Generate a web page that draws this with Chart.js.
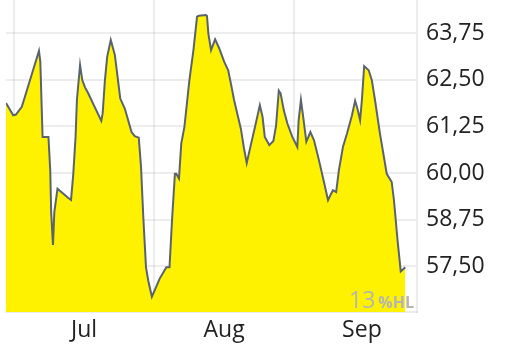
<!DOCTYPE html>
<html>
<head>
<meta charset="utf-8">
<script src="https://cdn.jsdelivr.net/npm/chart.js@4.4.1/dist/chart.umd.min.js"></script>
<style>
  html, body { margin: 0; padding: 0; background: #fff; }
  #wrap { width: 512px; height: 346px; }
</style>
</head>
<body>
<div id="wrap"><canvas id="chart" width="512" height="346"></canvas></div>
<script>
// days since 1 Jul, and the price at each
const days = [-1.8, -0.2, 0.4, 1.7, 5.0, 5.5, 5.8, 6.3, 7.6, 8.0, 8.2, 8.6, 8.9, 9.6, 12.0, 12.6,
  13.1, 13.6, 13.9, 14.6, 15.1, 15.7, 16.4, 19.3, 19.6, 20.1, 20.6, 21.4, 22.3, 23.0, 23.5, 24.5,
  26.0, 26.7, 27.6, 28.1, 28.6, 29.2, 29.7, 30.5, 31.4, 32.2, 33.7, 34.4, 35.0, 35.6, 35.9, 36.5,
  37.0, 37.7, 38.8, 39.7, 40.5, 40.9, 42.4, 42.7, 43.0, 43.6, 44.5, 45.4, 46.5, 47.4, 48.0, 48.7,
  49.4, 50.2, 50.9, 51.5, 52.4, 53.5, 54.4, 55.0, 55.5, 56.5, 57.4, 58.0, 58.6, 59.0, 59.7, 60.5,
  61.6, 62.7, 63.0, 63.5, 63.9, 64.7, 65.6, 66.4, 67.5, 68.6, 69.5, 70.0, 70.6, 71.3, 71.9, 72.8,
  73.7, 74.8, 75.5, 76.0, 76.6, 77.0, 77.5, 78.5, 79.2, 79.9, 81.0, 82.5, 83.6, 84.1, 84.9, 85.6, 86.6];
const prices = [61.88, 61.55, 61.57, 61.78, 63.08, 63.28, 62.99, 60.97, 60.97, 60.07, 58.95, 58.07, 58.95, 59.58, 59.33, 59.28,
  59.98, 60.97, 61.96, 62.90, 62.49, 62.30, 62.14, 61.40, 61.60, 62.49, 63.12, 63.57, 63.17, 62.49, 62.00, 61.73,
  61.10, 60.99, 60.95, 60.16, 58.82, 57.47, 57.11, 56.68, 56.93, 57.16, 57.47, 57.47, 58.82, 59.98, 59.98, 59.85,
  60.79, 61.24, 62.49, 63.30, 64.20, 64.22, 64.24, 64.22, 63.75, 63.30, 63.59, 63.35, 62.99, 62.76, 62.40, 61.96,
  61.60, 61.19, 60.66, 60.27, 60.75, 61.33, 61.82, 61.51, 60.97, 60.75, 60.86, 61.28, 62.21, 62.14, 61.69, 61.33,
  60.97, 60.70, 61.42, 61.96, 61.60, 60.84, 61.10, 60.88, 60.34, 59.76, 59.27, 59.40, 59.54, 59.49, 60.07, 60.70,
  61.06, 61.55, 61.94, 61.73, 61.42, 61.96, 62.87, 62.76, 62.49, 61.96, 61.06, 59.98, 59.76, 59.27, 58.19, 57.36, 57.47];

const yTicks = [57.5, 58.75, 60, 61.25, 62.5, 63.75];
const monthStarts = [0, 31, 62];
const monthMids = [15.5, 46.5, 77];
const monthNames = ['Jul', 'Aug', 'Sep'];

const gridColor = 'rgba(0,0,0,0.07)';
const font = { family: '"Open Sans", "Noto Sans", sans-serif', size: 23 };

const watermark = {
  id: 'watermark',
  afterDraw(chart) {
    const c = chart.ctx;
    c.save();
    c.fillStyle = '#b4b4b4';
    c.textBaseline = 'alphabetic';
    c.textAlign = 'right';
    c.font = 'bold 16px "Open Sans", sans-serif';
    c.fillText('%HL', 414, 308);
    const w = c.measureText('%HL').width;
    c.font = '23px "Open Sans", sans-serif';
    c.fillText('13', 414 - w - 3, 308);
    c.restore();
  }
};

// drop the half-label padding so the plot runs to the canvas top
function noPad(s) {
  s.paddingTop = 0; s.paddingBottom = 0; s.paddingLeft = 0; s.paddingRight = 0;
}

new Chart(document.getElementById('chart'), {
  type: 'line',
  data: {
    datasets: [{
      data: days.map((d, i) => ({ x: d, y: prices[i] })),
      borderColor: '#5a636c',
      borderWidth: 2,
      backgroundColor: '#fff200',
      fill: 'start',
      pointRadius: 0,
      tension: 0
    }]
  },
  options: {
    responsive: false,
    animation: false,
    layout: { padding: { left: 6, top: 0, right: 0, bottom: 0 } },
    plugins: { legend: { display: false }, tooltip: { enabled: false } },
    scales: {
      x: {
        type: 'linear',
        min: -1.8,
        max: 89.2,
        z: 1,
        afterBuildTicks: s => {
          s.ticks = [...monthStarts, ...monthMids].sort((a, b) => a - b).map(v => ({ value: v }));
        },
        afterFit: s => { s.height = 34; noPad(s); },
        grid: {
          color: ctx => monthStarts.includes(ctx.tick && ctx.tick.value) ? gridColor : 'rgba(0,0,0,0)',
          lineWidth: 2,
          drawTicks: false
        },
        border: { color: gridColor, width: 2 },
        ticks: {
          autoSkip: false,
          maxRotation: 0,
          padding: 5,
          color: '#222',
          font: font,
          callback: v => {
            const i = monthMids.indexOf(v);
            return i >= 0 ? monthNames[i] : '';
          }
        }
      },
      y: {
        position: 'right',
        min: 56.27,
        max: 64.645,
        z: 1,
        afterBuildTicks: s => { s.ticks = yTicks.map(v => ({ value: v })); },
        afterFit: s => { s.width = 95; noPad(s); },
        grid: { color: gridColor, lineWidth: 2, drawTicks: false },
        border: { color: gridColor, width: 2 },
        ticks: {
          padding: 9,
          color: '#222',
          font: font,
          callback: v => v.toFixed(2).replace('.', ',')
        }
      }
    }
  },
  plugins: [watermark]
});
</script>
</body>
</html>
